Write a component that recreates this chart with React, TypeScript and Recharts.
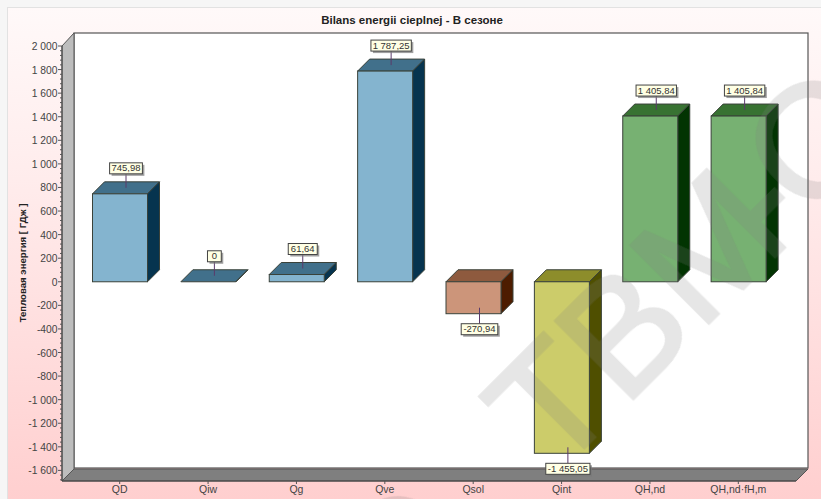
import React from "react";
import { BarChart, Bar, XAxis, YAxis, CartesianGrid, LabelList, usePlotArea } from "recharts";

const categories = ["QD", "Qiw", "Qg", "Qve", "Qsol", "Qint", "QH,nd", "QH,nd·fH,m"];
const energy = [745.98, 0, 61.64, 1787.25, -270.94, -1455.05, 1405.84, 1405.84];
const majorTicks = [2000, 1800, 1600, 1400, 1200, 1000, 800, 600, 400, 200, 0, -200, -400, -600, -800, -1000, -1200, -1400, -1600];
const minorOffsets = [0, 40, 80, 120, 160];
const axisTicks = majorTicks.flatMap((t) => minorOffsets.map((o) => t - o)).filter((t) => t >= -1680);
const faceColors = ["#84b4cf", "#84b4cf", "#84b4cf", "#84b4cf", "#cc957a", "#cccc6a", "#77b172", "#77b172"];
const topColors = ["#41708b", "#41708b", "#41708b", "#41708b", "#8e5a3e", "#8d8d2b", "#387232", "#387232"];
const sideColors = ["#06344f", "#06344f", "#06344f", "#06344f", "#4d1c00", "#4f4f00", "#023402", "#023402"];

const chartData = categories.map((name, i) => ({ name, value: energy[i] }));
const DEPTH = 12;
const SANS = "'Liberation Sans', Arial, sans-serif";

function group(n: number) {
  const s = String(Math.abs(Math.trunc(n)));
  return (n < 0 ? "-" : "") + s.replace(/\B(?=(\d{3})+$)/g, " ");
}
function fmt(n: number) {
  if (n === 0) return "0";
  const dec = Math.abs(n).toFixed(2).split(".")[1];
  return `${group(n)},${dec}`;
}

function Walls() {
  const p = usePlotArea();
  if (!p) return null;
  const { x, y, width: w, height: h } = p;
  const d = DEPTH;
  return (
    <g>
      <rect x={x + d} y={y - d - 1} width={w} height={h} fill="#ffffff" stroke="#555" strokeWidth={1.2} />
      <polygon points={`${x},${y} ${x + d},${y - d - 1} ${x + d},${y + h - d} ${x},${y + h}`} fill="#bdbdbd" stroke="#555" strokeWidth={1} />
      <polygon points={`${x},${y + h} ${x + d},${y + h - d} ${x + w + d},${y + h - d} ${x + w},${y + h}`} fill="#7f7f7f" stroke="#555" strokeWidth={1} />
    </g>
  );
}

function Box(props: any) {
  const { x, y, width, height, index } = props;
  const d = DEPTH;
  const top = Math.min(y, y + height);
  const h = Math.abs(height);
  const right = x + width;
  return (
    <g stroke="#3a423a" strokeWidth={1}>
      <polygon points={`${x},${top} ${x + d},${top - d} ${right + d},${top - d} ${right},${top}`} fill={topColors[index]} />
      <polygon points={`${right},${top} ${right + d},${top - d} ${right + d},${top + h - d} ${right},${top + h}`} fill={sideColors[index]} />
      <rect x={x} y={top} width={width} height={h} fill={faceColors[index]} />
    </g>
  );
}

function Callout(props: any) {
  const { x, y, width, height, value } = props;
  const d = DEPTH;
  const text = fmt(value);
  const cx = x + width / 2 + d / 2;
  const boxW = text.length * 3.8 + 10;
  const boxH = 11;
  const neg = value < 0;
  const anchor = (neg ? Math.max(y, y + height) : Math.min(y, y + height)) - d / 2;
  const boxY = neg ? anchor + 16 : anchor - 14 - boxH;
  const stemEnd = neg ? boxY : boxY + boxH;
  return (
    <g>
      <line x1={cx} x2={cx} y1={anchor} y2={stemEnd} stroke="#5a3a6a" strokeWidth={1} />
      <rect x={cx - boxW / 2 + 2} y={boxY + 2} width={boxW} height={boxH} fill="#777" opacity={0.7} />
      <rect x={cx - boxW / 2} y={boxY} width={boxW} height={boxH} fill="#ffffe4" stroke="#444" strokeWidth={1} />
      <text x={cx} y={boxY + 8.6} textAnchor="middle" fontFamily={SANS} fontSize={9.5} fill="#333">{text}</text>
    </g>
  );
}

function YTick(props: any) {
  const { x, y, payload } = props;
  const major = majorTicks.includes(payload.value);
  return (
    <g>
      <line x1={x - (major ? 4 : 2)} x2={x} y1={y} y2={y} stroke="#555" strokeWidth={1} />
      {major && (
        <text x={x - 4.5} y={y + 4} textAnchor="end" fontFamily={SANS} fontSize={10.3} fill="#444">{group(payload.value)}</text>
      )}
    </g>
  );
}

function GridLine(props: any) {
  const { x1, x2, y1, y2 } = props;
  return <line x1={x1 + DEPTH} x2={x2 + DEPTH} y1={y1 - DEPTH} y2={y2 - DEPTH} stroke="#dedede" strokeWidth={1.4} />;
}

export default function App() {
  return (
    <div style={{ position: "absolute", left: 0, top: 0, width: 821, height: 499, background: "#f6f6f6", overflow: "hidden" }}>
      <div style={{ position: "absolute", left: 7, top: 7, right: 0, bottom: 0, background: "linear-gradient(180deg,#fff9f9 0%,#ffecec 35%,#ffcfcf 100%)", borderTop: "1px solid #e2e2e2", borderLeft: "1px solid #e2e2e2" }} />
      <BarChart
        width={821}
        height={499}
        data={chartData}
        margin={{ top: 46, right: 25, bottom: 0, left: 0 }}
        barSize={55}
        style={{ position: "absolute", left: 0, top: 0 }}
      >
        <Walls />
        <CartesianGrid vertical={false} horizontalValues={majorTicks.slice(1)} horizontal={(p: any) => <GridLine key={p.y1} {...p} />} />
        <XAxis
          dataKey="name"
          height={18}
          interval={0}
          padding={{ left: 13.5, right: 13.5 }}
          tickSize={3}
          tickMargin={2}
          axisLine={{ stroke: "#444" }}
          tickLine={{ stroke: "#555" }}
          tick={{ fontFamily: SANS, fontSize: 10.5, fill: "#444" }}
          orientation="bottom"
        />
        <YAxis
          width={62}
          domain={[-1690, 2000]}
          ticks={axisTicks}
          interval={0}
          tickSize={0}
          tickMargin={0}
          axisLine={{ stroke: "#444" }}
          tick={<YTick />}
        />
        <Bar dataKey="value" isAnimationActive={false} shape={<Box />}>
          <LabelList dataKey="value" content={<Callout />} />
        </Bar>
        <text x={412} y={24} textAnchor="middle" fontFamily={SANS} fontSize={11.5} fontWeight="bold" fill="#222">Bilans energii cieplnej - В сезоне</text>
        <text transform="translate(26,263) rotate(-90)" textAnchor="middle" fontFamily={SANS} fontSize={9.6} fontWeight="bold" fill="#222">Тепловая энергия [ ГДж ]</text>
      </BarChart>
      <svg width={821} height={499} style={{ position: "absolute", left: 0, top: 0, pointerEvents: "none" }}>
        <g opacity={0.2} fill="#808080" stroke="#808080" strokeWidth={3} fontFamily={SANS} fontSize={160}>
          <text transform="translate(555,477) rotate(-45)" dx="0 0 0 -25 -6">TBM-O</text>
          <text transform="translate(394,638) rotate(-45)">O</text>
        </g>
      </svg>
    </div>
  );
}
